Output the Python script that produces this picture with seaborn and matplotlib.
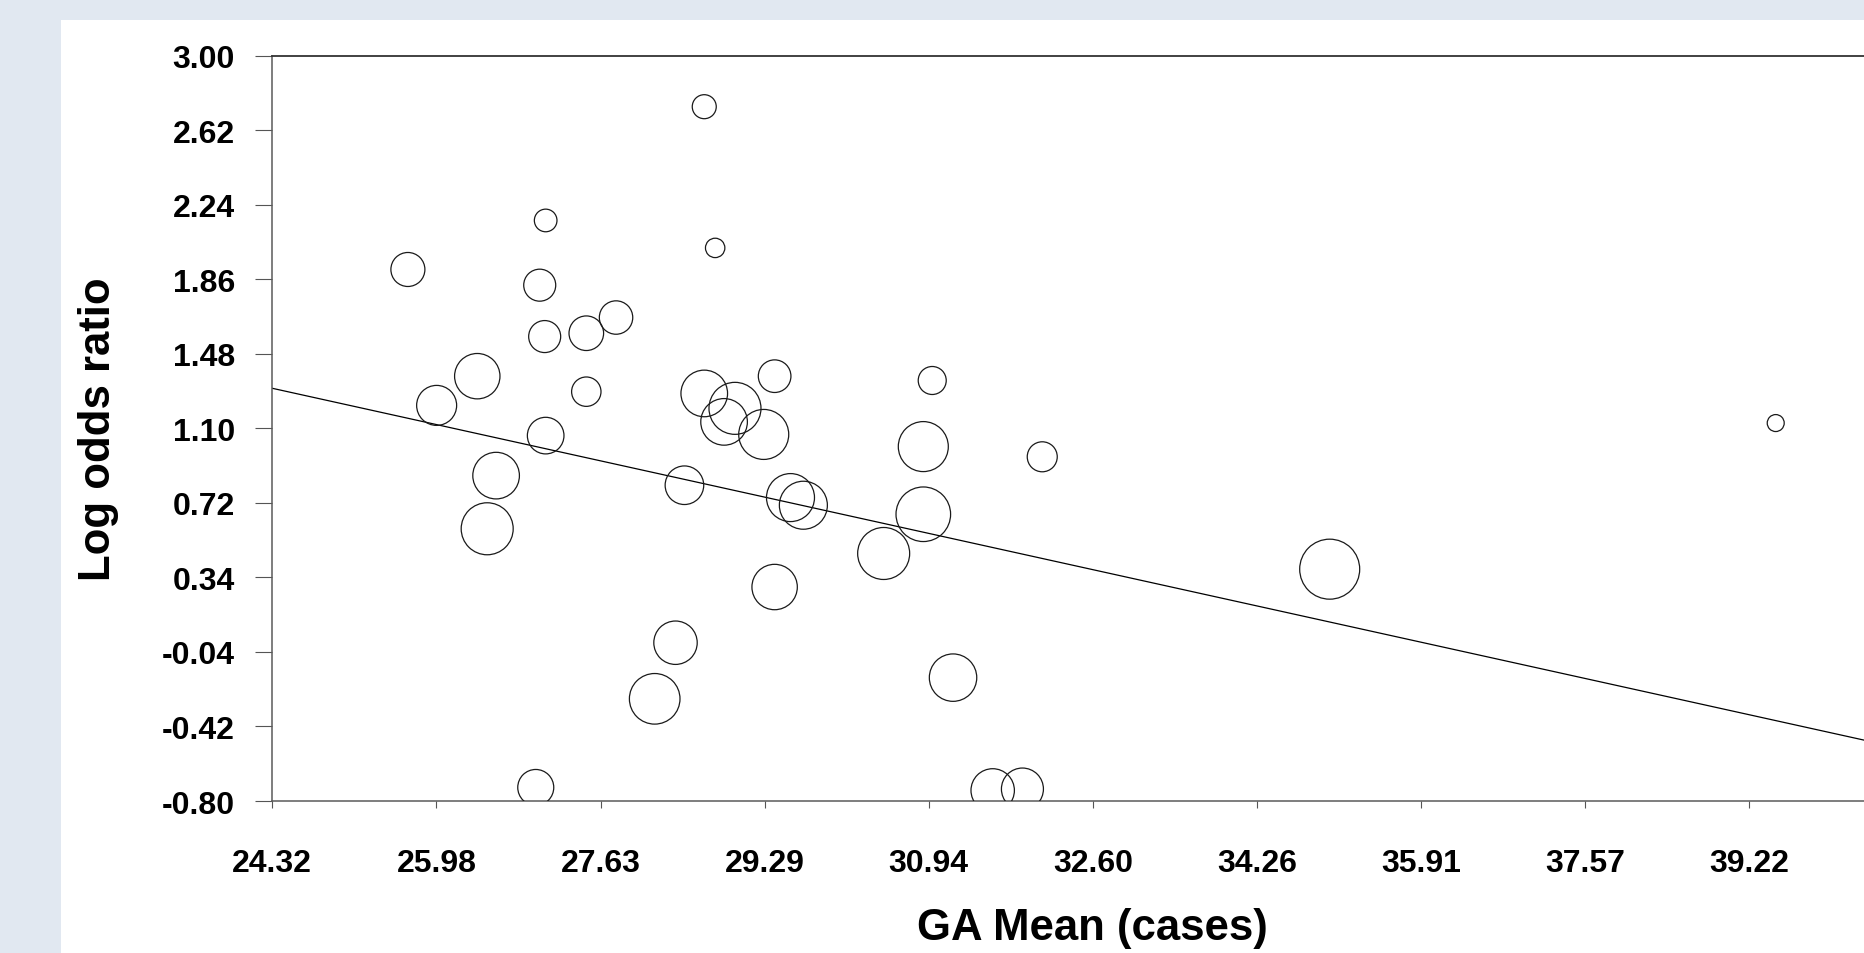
import numpy as np
import pandas as pd
import matplotlib
matplotlib.use("Agg")
import matplotlib.pyplot as plt
import seaborn as sns
from matplotlib.patches import Rectangle

# ---------------------------------------------
# data
# ---------------------------------------------
ga_mean = [28.68, 27.08, 28.79, 25.69, 27.02, 27.79, 27.07, 27.49, 26.39, 25.98,
           27.49, 29.39, 28.68, 28.99, 28.88, 29.28, 27.08, 26.58, 26.49, 28.48,
           29.55, 29.68, 29.39, 28.39, 28.18, 26.98, 30.89, 32.09, 30.89, 30.49,
           31.19, 31.59, 31.89, 30.98, 34.99, 39.49]
log_or = [2.74, 2.16, 2.02, 1.91, 1.83, 1.665, 1.568, 1.585, 1.366, 1.217,
          1.287, 1.366, 1.278, 1.202, 1.133, 1.069, 1.063, 0.859, 0.588, 0.81,
          0.747, 0.708, 0.291, 0.007, -0.279, -0.731, 1.007, 0.955, 0.662, 0.462,
          -0.171, -0.746, -0.739, 1.344, 0.382, 1.127]
# relative study weights (bubble area)
weight = [1.44, 1.28, 0.94, 2.89, 2.56, 2.79, 2.56, 2.99, 5.15, 4.0,
          2.16, 2.66, 5.43, 6.76, 5.43, 6.25, 3.35, 5.43, 6.76, 3.72,
          5.76, 5.76, 5.15, 4.71, 6.40, 3.24, 6.25, 2.25, 7.45, 6.76,
          5.62, 4.71, 4.41, 1.96, 9.0, 0.72]

# fitted regression line
intercept = 4.021
slope = -0.1117

# visible tick labels (the 40.88 end of the axis is cropped off the picture)
x_tick_labels = ["24.32", "25.98", "27.63", "29.29", "30.94", "32.60",
                 "34.26", "35.91", "37.57", "39.22"]
y_tick_labels = ["-0.80", "-0.42", "-0.04", "0.34", "0.72", "1.10",
                 "1.48", "1.86", "2.24", "2.62", "3.00"]
x_min, x_max = 24.322, 40.878
y_min, y_max = -0.80, 3.00

df = pd.DataFrame({"ga": ga_mean, "lor": log_or, "w": weight})

# ---------------------------------------------
# style
# ---------------------------------------------
sns.set_theme(style="white")
plt.rcParams["font.family"] = ["Liberation Sans", "DejaVu Sans"]

W, H = 1864, 954
fig = plt.figure(figsize=(W / 100, H / 100), dpi=100)
fig.patch.set_facecolor("#e1e8f1")
fig.add_artist(Rectangle((61 / W, 0), (W - 61) / W, (H - 21) / H,
                         transform=fig.transFigure, facecolor="white",
                         edgecolor="none", zorder=0))

# axes runs past the right edge (the original is cropped there)
ax = fig.add_axes([272.3 / W, (H - 802) / H, 1641 / W, 745.3 / H])
ax.set_facecolor("white")

# ---------------------------------------------
# bubbles + regression line
# ---------------------------------------------
k = 207.36  # area per unit weight, pt^2
wmin, wmax = df["w"].min(), df["w"].max()
sns.scatterplot(data=df, x="ga", y="lor", size="w",
                sizes=(wmin * k, wmax * k), size_norm=(wmin, wmax),
                facecolor="none", edgecolor="#1a1a1a", linewidth=0.9,
                legend=False, ax=ax, zorder=3)

line_x = np.array([x_min, x_max])
sns.lineplot(x=line_x, y=intercept + slope * line_x, color="black",
             linewidth=0.9, ax=ax, zorder=2)

# ---------------------------------------------
# axes formatting
# ---------------------------------------------
ax.set_xlim(x_min, x_max)
ax.set_ylim(y_min, y_max)
x_step = (x_max - x_min) / 10
ax.set_xticks(x_min + x_step * np.arange(len(x_tick_labels)))
ax.set_xticklabels(x_tick_labels)
ax.set_yticks(np.linspace(y_min, y_max, len(y_tick_labels)))
ax.set_yticklabels(y_tick_labels)

for lab in ax.get_xticklabels() + ax.get_yticklabels():
    lab.set_fontweight("bold")
    lab.set_fontsize(23)
    lab.set_color("black")

ax.tick_params(axis="x", direction="out", length=5, width=0.8,
               color="#555555", pad=29, bottom=True)
ax.tick_params(axis="y", direction="out", length=12, width=0.8,
               color="#555555", pad=15, left=True)

for side in ["left", "bottom"]:
    ax.spines[side].set_color("#5a5a5a")
    ax.spines[side].set_linewidth(1.1)
ax.spines["top"].set_color("#333333")
ax.spines["top"].set_linewidth(1.3)
ax.spines["right"].set_visible(False)

ax.set_xlabel("GA Mean (cases)", fontsize=31.5, fontweight="bold",
              color="black", labelpad=21)
ax.set_ylabel("Log odds ratio", fontsize=31.5, fontweight="bold",
              color="black", labelpad=31)

fig.savefig("out.png", dpi=100, facecolor=fig.get_facecolor())
